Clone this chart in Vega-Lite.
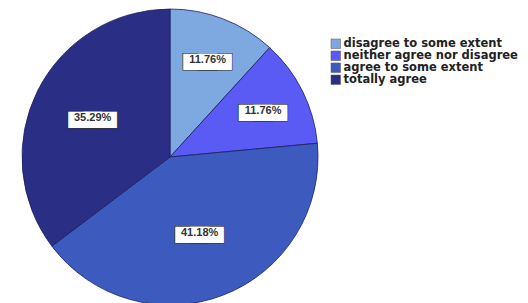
{
  "$schema": "https://vega.github.io/schema/vega-lite/v6.json",
  "width": 340,
  "height": 314,
  "padding": 0,
  "background": "white",
  "view": {"stroke": null},
  "data": {
    "values": [
      {"category": "disagree to some extent", "percent": 11.76, "label": "11.76%", "order": 1},
      {"category": "neither agree nor disagree", "percent": 11.76, "label": "11.76%", "order": 2},
      {"category": "agree to some extent", "percent": 41.18, "label": "41.18%", "order": 3},
      {"category": "totally agree", "percent": 35.29, "label": "35.29%", "order": 4}
    ]
  },
  "encoding": {
    "theta": {"field": "percent", "type": "quantitative", "stack": true},
    "order": {"field": "order", "type": "quantitative"},
    "detail": {"field": "category"}
  },
  "layer": [
    {
      "mark": {"type": "arc", "outerRadius": 148, "stroke": "#1c2060", "strokeWidth": 0.8},
      "encoding": {
        "color": {
          "field": "category",
          "type": "nominal",
          "scale": {
            "domain": ["disagree to some extent", "neither agree nor disagree", "agree to some extent", "totally agree"],
            "range": ["#7da8e0", "#5a5af5", "#3d5bbe", "#2a2e85"]
          },
          "legend": {
            "orient": "none",
            "legendX": 330,
            "legendY": 38,
            "title": null,
            "symbolType": "square",
            "symbolSize": 90,
            "symbolStrokeColor": "#555555",
            "symbolStrokeWidth": 0.5,
            "labelFont": "DejaVu Sans",
            "labelFontSize": 11.5,
            "labelFontWeight": "bold",
            "labelColor": "#222222",
            "labelOffset": 2,
            "labelLimit": 300,
            "rowPadding": -3
          }
        }
      }
    },
    {
      "mark": {"type": "text", "text": "▬", "font": "DejaVu Sans", "fontSize": 44, "fill": null, "stroke": "#333333", "strokeWidth": 1.4, "dx": -7.5, "baseline": "middle", "align": "center"},
      "encoding": {"radius": {"field": "percent", "type": "quantitative", "scale": {"domain": [11.76, 41.18], "range": [104, 82]}}}
    },
    {
      "mark": {"type": "text", "text": "▬", "font": "DejaVu Sans", "fontSize": 44, "fill": null, "stroke": "#333333", "strokeWidth": 1.4, "dx": 7.5, "baseline": "middle", "align": "center"},
      "encoding": {"radius": {"field": "percent", "type": "quantitative", "scale": {"domain": [11.76, 41.18], "range": [104, 82]}}}
    },
    {
      "mark": {"type": "text", "text": "▬", "font": "DejaVu Sans", "fontSize": 44, "fill": "white", "dx": -7.5, "baseline": "middle", "align": "center"},
      "encoding": {"radius": {"field": "percent", "type": "quantitative", "scale": {"domain": [11.76, 41.18], "range": [104, 82]}}}
    },
    {
      "mark": {"type": "text", "text": "▬", "font": "DejaVu Sans", "fontSize": 44, "fill": "white", "dx": 7.5, "baseline": "middle", "align": "center"},
      "encoding": {"radius": {"field": "percent", "type": "quantitative", "scale": {"domain": [11.76, 41.18], "range": [104, 82]}}}
    },
    {
      "mark": {"type": "text", "font": "Liberation Sans", "fontSize": 11, "fontWeight": "bold", "color": "#333333", "baseline": "middle", "align": "center"},
      "encoding": {
        "text": {"field": "label"},
        "radius": {"field": "percent", "type": "quantitative", "scale": {"domain": [11.76, 41.18], "range": [104, 82]}}
      }
    }
  ]
}
